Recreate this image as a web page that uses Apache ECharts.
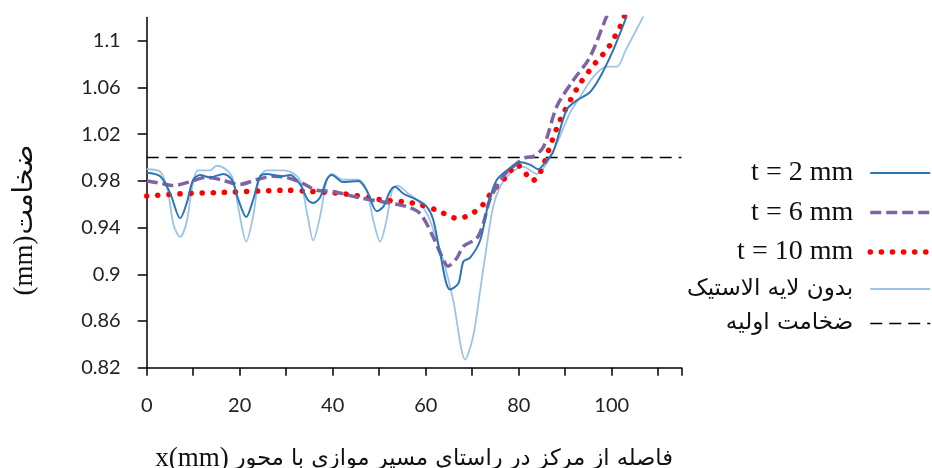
<!DOCTYPE html>
<html><head><meta charset="utf-8">
<script src="https://cdn.jsdelivr.net/npm/echarts@6/dist/echarts.min.js"></script>
<style>html,body{margin:0;padding:0;background:#fff}#c{width:932px;height:468px}</style>
</head><body><div id="c"></div>
<script>
// ---- data ----
const seriesNames = ['t = 2 mm', 't = 6 mm', 't = 10 mm', 'بدون لایه الاستیک', 'ضخامت اولیه'];
const xAxisName = 'فاصله از مرکز در راستای مسیر موازی با محور';
const yAxisName = 'ضخامت';
const t2X = [0,2.9,5,7.2,8.6,10,11.5,13.6,16.5,18.3,19.7,21.4,22.9,24.4,25.8,28.7,30.8,33,34.6,35.8,37.3,38.7,39.8,42.3,45.5,47.3,49.5,50.9,52.3,53.4,55.2,58,60.2,61.6,63.1,65.2,67,68.1,69.5,71.7,73.5,75.3,78.1,80.3,82.4,84.2,85.3,87.4,90.3,92.5,95.3,97.5,100.3,103.2,104];
const t2Y = [0.987,0.984,0.970,0.948,0.961,0.981,0.985,0.983,0.986,0.981,0.964,0.949,0.964,0.984,0.986,0.984,0.985,0.977,0.964,0.961,0.966,0.981,0.985,0.979,0.980,0.972,0.954,0.958,0.971,0.975,0.969,0.964,0.958,0.947,0.918,0.887,0.892,0.911,0.914,0.929,0.961,0.981,0.991,0.996,0.994,0.990,0.994,1.005,1.041,1.049,1.056,1.069,1.092,1.121,1.13];
const t6X = [0,3,5.7,9,12.9,16,20,23.5,27.2,30,33,36.6,40.1,45.2,50.9,55.9,58.8,61.6,63.5,64.8,66.7,68.1,71,72.5,73.8,76.7,79.6,81.5,83.1,85.3,88.2,91.7,95.3,98.9,100];
const t6Y = [0.980,0.978,0.976,0.979,0.983,0.981,0.977,0.981,0.984,0.983,0.979,0.972,0.971,0.966,0.962,0.958,0.952,0.932,0.915,0.907,0.914,0.924,0.931,0.945,0.964,0.984,0.995,1.000,1.001,1.009,1.044,1.066,1.086,1.121,1.13];
const t10X = [0,7.2,15,22,30,35.1,42.3,50.2,57.3,62.4,66.7,69,71.7,73.1,74.5,77.4,79.6,81.2,82.9,84.6,86.4,88.9,92.8,95.3,97.1,98.9,100.3,101.4,102.5,103.2];
const t10Y = [0.967,0.969,0.970,0.971,0.972,0.971,0.969,0.964,0.961,0.955,0.948,0.950,0.957,0.964,0.972,0.984,0.994,0.988,0.980,0.987,1.006,1.032,1.061,1.075,1.084,1.092,1.101,1.109,1.118,1.13];
const noLayerX = [0,2.9,4.5,5.8,7.2,8.6,9.8,11,13.6,15,17,18.5,19.8,21.4,22.9,24.2,25.8,28.7,30.8,33,34.6,35.8,37.3,38.7,39.8,42.3,45.5,47.3,48.8,50.2,51.5,52.8,54,56,58.5,60.5,62.4,63.8,65.9,68.5,70.2,71.7,73.1,74.5,76,78.1,81,83.9,86,88.2,91,93.2,96,98.9,101.1,103,106.8,108];
const noLayerY = [0.990,0.988,0.972,0.942,0.932,0.945,0.975,0.989,0.989,0.993,0.990,0.982,0.955,0.928,0.950,0.982,0.989,0.989,0.988,0.980,0.950,0.929,0.950,0.980,0.986,0.981,0.981,0.972,0.945,0.928,0.945,0.972,0.976,0.970,0.962,0.950,0.929,0.912,0.878,0.827,0.847,0.886,0.924,0.958,0.975,0.986,0.992,0.986,0.995,1.012,1.038,1.052,1.069,1.078,1.078,1.092,1.121,1.13];
const initX = [0, 115];
const initY = [1.0, 1.0];
const xTicks = [0, 20, 40, 60, 80, 100];
const yTicks = [0.82, 0.86, 0.9, 0.94, 0.98, 1.02, 1.06, 1.1];

const zip = (xs, ys) => xs.map((x, i) => [x, ys[i]]);
const AR = '"DejaVu Sans", sans-serif';
const SERIF = '"Liberation Serif", "Times New Roman", serif';
const LBL = 'Lato, "Open Sans", sans-serif';

const chart = echarts.init(document.getElementById('c'), null, {renderer: 'canvas'});
chart.setOption({
  animation: false,
  backgroundColor: '#fff',
  grid: {left: 146.7, top: 17.5, right: 250.5, bottom: 100.3, containLabel: false, outerBoundsMode: 'none'},
  xAxis: {
    type: 'value', min: 0, max: 115, interval: 10,
    axisLine: {show: true, onZero: false, lineStyle: {color: '#000', width: 1.5}},
    axisTick: {show: true, inside: false, length: 8, lineStyle: {color: '#000', width: 1.5}},
    splitLine: {show: false},
    axisLabel: {margin: 28, color: '#222', fontFamily: LBL, fontSize: 20,
      formatter: v => xTicks.indexOf(v) >= 0 ? String(v) : ''},
    name: '{en|x(mm)}{ar|' + xAxisName + '}',
    nameLocation: 'middle', nameGap: 78,
    nameTextStyle: {rich: {
      en: {fontFamily: SERIF, fontSize: 27, color: '#111', padding: [0, 6, 0, 0]},
      ar: {fontFamily: AR, fontSize: 22.5, color: '#111'}
    }}
  },
  yAxis: {
    type: 'value', min: 0.82, max: 1.12,
    axisLine: {show: true, lineStyle: {color: '#000', width: 1.5}},
    axisTick: {show: true, inside: false, length: 9, customValues: yTicks, lineStyle: {color: '#000', width: 1.5}},
    splitLine: {show: false},
    axisLabel: {margin: 26, color: '#222', fontFamily: LBL, fontSize: 20, customValues: yTicks,
      formatter: v => String(+(+v).toFixed(2))},
    name: '{en|(mm)}{ar|' + yAxisName + '}',
    nameLocation: 'middle', nameRotate: 90, nameGap: 108,
    nameTextStyle: {padding: [0, 66, 0, 0], rich: {
      en: {fontFamily: SERIF, fontSize: 27, color: '#111', width: 72},
      ar: {fontFamily: AR, fontSize: 27, color: '#111', width: 80}
    }}
  },
  legend: {
    orient: 'vertical', align: 'right', right: -6, top: 154,
    itemWidth: 60, itemHeight: 26, itemGap: 11.5,
    itemStyle: {opacity: 0},
    lineStyle: {width: 'inherit'},
    data: seriesNames,
    formatter: n => /[a-z0-9]/.test(n) ? '{en|' + n + '}' : '{ar|' + n + '}',
    textStyle: {padding: [0, 12, 0, 0], rich: {
      en: {fontFamily: SERIF, fontSize: 28, color: '#111', lineHeight: 26},
      ar: {fontFamily: AR, fontSize: 23, color: '#111', lineHeight: 26}
    }}
  },
  series: [
    {name: seriesNames[3], type: 'line', data: zip(noLayerX, noLayerY), smooth: 0.3, symbol: 'none',
      lineStyle: {color: '#9DC3E6', width: 1.8}, itemStyle: {color: '#9DC3E6'}, z: 2},
    {name: seriesNames[4], type: 'line', data: zip(initX, initY), symbol: 'none',
      lineStyle: {color: '#000', width: 1.5, type: [12, 7]}, itemStyle: {color: '#000'}, z: 2},
    {name: seriesNames[2], type: 'line', data: zip(t10X, t10Y), smooth: 0.3, symbol: 'none',
      lineStyle: {color: '#FF0000', width: 5.5, type: [0.1, 11], cap: 'round'}, itemStyle: {color: '#FF0000'}, z: 3},
    {name: seriesNames[1], type: 'line', data: zip(t6X, t6Y), smooth: 0.3, symbol: 'none',
      lineStyle: {color: '#8064A2', width: 3.5, type: [11, 5]}, itemStyle: {color: '#8064A2'}, z: 4},
    {name: seriesNames[0], type: 'line', data: zip(t2X, t2Y), smooth: 0.3, symbol: 'none',
      lineStyle: {color: '#2E75B6', width: 2}, itemStyle: {color: '#2E75B6'}, z: 5}
  ]
});
</script></body></html>
